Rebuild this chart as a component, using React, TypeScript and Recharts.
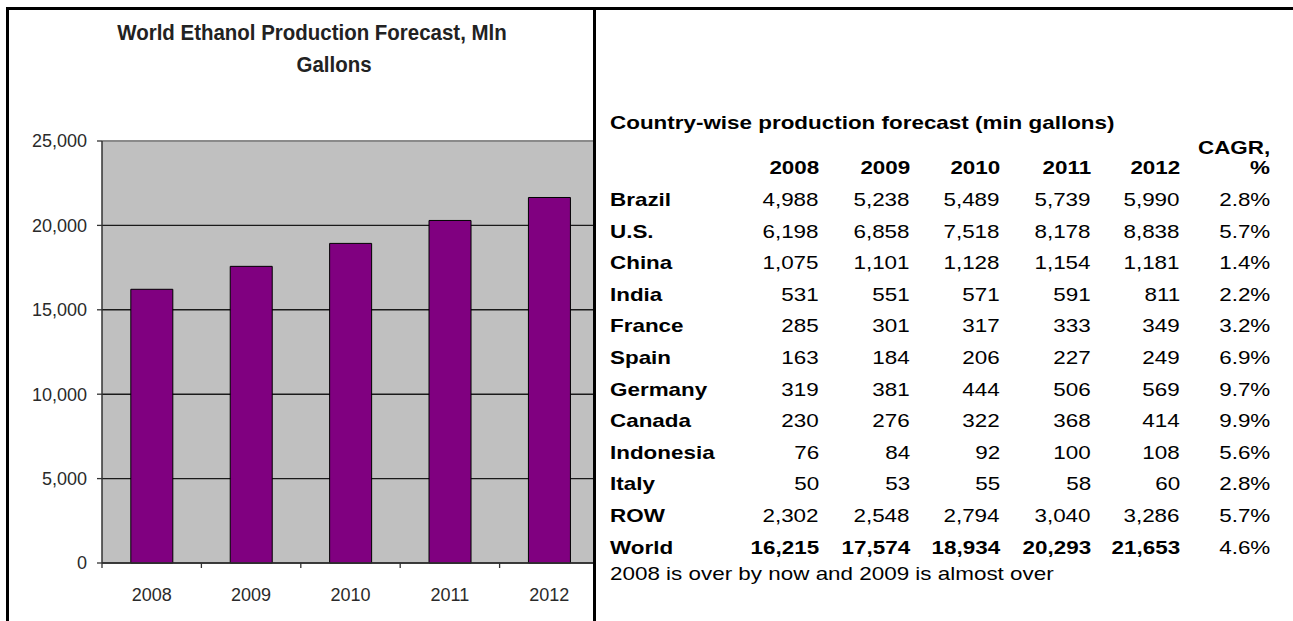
import React from 'react';
import { BarChart, Bar, XAxis, YAxis, CartesianGrid, ReferenceLine } from 'recharts';

const years = ['2008', '2009', '2010', '2011', '2012'];
const worldTotals = [16215, 17574, 18934, 20293, 21653];
const yTicks = [0, 5000, 10000, 15000, 20000, 25000];

const countries = ['Brazil', 'U.S.', 'China', 'India', 'France', 'Spain', 'Germany', 'Canada', 'Indonesia', 'Italy', 'ROW', 'World'];
const v2008 = [4988, 6198, 1075, 531, 285, 163, 319, 230, 76, 50, 2302, 16215];
const v2009 = [5238, 6858, 1101, 551, 301, 184, 381, 276, 84, 53, 2548, 17574];
const v2010 = [5489, 7518, 1128, 571, 317, 206, 444, 322, 92, 55, 2794, 18934];
const v2011 = [5739, 8178, 1154, 591, 333, 227, 506, 368, 100, 58, 3040, 20293];
const v2012 = [5990, 8838, 1181, 811, 349, 249, 569, 414, 108, 60, 3286, 21653];
const cagr = ['2.8%', '5.7%', '1.4%', '2.2%', '3.2%', '6.9%', '9.7%', '9.9%', '5.6%', '2.8%', '5.7%', '4.6%'];

const chartTitle = ['World Ethanol Production Forecast, Mln', 'Gallons'];
const tableTitle = 'Country-wise production forecast (min gallons)';
const footnote = '2008 is over by now and 2009 is almost over';

const chartData = years.map((y, i) => ({ year: y, value: worldTotals[i] }));
const yearCols = [v2008, v2009, v2010, v2011, v2012];

const FONT = "'Liberation Sans', Arial, Helvetica, sans-serif";
const fmt = (n: number) => n.toLocaleString('en-US');

const XTick = (props: any) => {
  const { x, y, payload, index } = props;
  const half = payload && typeof payload.offset === 'number' && payload.offset > 0 ? payload.offset : 49.7;
  return (
    <g>
      <line x1={x - half} x2={x - half} y1={y - 5} y2={y} stroke="#333" strokeWidth={1.3} />
      {index === years.length - 1 && (
        <line x1={x + half} x2={x + half} y1={y - 5} y2={y} stroke="#333" strokeWidth={1.3} />
      )}
      <text x={x} y={y + 27} textAnchor="middle" dominantBaseline="central" fill="#2a2a2a" fontSize={18} fontFamily={FONT}>
        {payload.value}
      </text>
    </g>
  );
};

const colRights = [819, 910, 1000, 1091, 1180, 1270];
const labelLeft = 610;
const rowY0 = 200;
const rowStep = 31.6;

const cellStyle = (y: number, bold: boolean): React.CSSProperties => ({
  position: 'absolute',
  top: y,
  fontFamily: FONT,
  fontSize: 19,
  fontWeight: bold ? 'bold' : 'normal',
  color: '#000',
  whiteSpace: 'nowrap',
  lineHeight: '20px',
});

const Right = ({ x, y, bold, children }: any) => (
  <div style={{ ...cellStyle(y, bold), right: 1293 - x, transform: 'translateY(-50%) scaleX(1.18)', transformOrigin: 'right center' }}>{children}</div>
);
const Left = ({ x, y, bold, children }: any) => (
  <div style={{ ...cellStyle(y, bold), left: x, transform: 'translateY(-50%) scaleX(1.18)', transformOrigin: 'left center' }}>{children}</div>
);

const titleStyle = (x: number, y: number): React.CSSProperties => ({
  position: 'absolute',
  left: x,
  top: y,
  transform: 'translate(-50%, -50%) scaleX(0.93)',
  fontFamily: FONT,
  fontWeight: 'bold',
  fontSize: 22,
  color: '#222',
  whiteSpace: 'nowrap',
});

export default function App() {
  return (
    <div style={{ position: 'absolute', left: 0, top: 0, width: 1293, height: 621, background: '#fff', overflow: 'hidden' }}>
      {/* borders */}
      <div style={{ position: 'absolute', left: 6, top: 7, width: 1300, height: 3, background: '#000' }} />
      <div style={{ position: 'absolute', left: 6, top: 7, width: 3, height: 620, background: '#000' }} />

      {/* chart panel */}
      <div style={{ position: 'absolute', left: 0, top: 0, width: 593, height: 621, overflow: 'hidden' }}>
        <BarChart width={620} height={621} data={chartData} margin={{ top: 141, right: 21, bottom: 0, left: 0 }} barCategoryGap="29%">
          <CartesianGrid vertical={false} stroke="#1a1a1a" strokeWidth={1.4} fill="#C0C0C0" fillOpacity={1} />
          <ReferenceLine y={25000} stroke="#8a8a8a" strokeWidth={2} />
          <XAxis dataKey="year" tickLine={false} tickSize={5} tickMargin={0} axisLine={{ stroke: '#333', strokeWidth: 1.4 }} tick={<XTick />} interval={0} height={58} />
          <YAxis
            type="number"
            domain={[0, 25000]}
            ticks={yTicks}
            tickFormatter={fmt}
            width={102}
            tickSize={5}
            tickMargin={10}
            axisLine={{ stroke: '#333', strokeWidth: 1.5 }}
            tickLine={{ stroke: '#333', strokeWidth: 1.3 }}
            tick={{ fill: '#2a2a2a', fontSize: 18, fontFamily: FONT }}
          />
          <Bar dataKey="value" fill="#800080" stroke="#000" strokeWidth={1} isAnimationActive={false} />
        </BarChart>
        <div style={titleStyle(312, 33)}>{chartTitle[0]}</div>
        <div style={titleStyle(334, 65)}>{chartTitle[1]}</div>
      </div>

      {/* divider */}
      <div style={{ position: 'absolute', left: 593, top: 7, width: 3, height: 620, background: '#000' }} />

      {/* table */}
      <Left x={labelLeft} y={123} bold>{tableTitle}</Left>
      <Right x={colRights[5]} y={148} bold>CAGR,</Right>
      {years.map((yr, j) => (
        <Right key={yr} x={colRights[j]} y={168} bold>{yr}</Right>
      ))}
      <Right x={colRights[5]} y={168} bold>%</Right>
      {countries.map((c, i) => {
        const y = rowY0 + i * rowStep;
        const isWorld = c === 'World';
        return (
          <React.Fragment key={c}>
            <Left x={labelLeft} y={y} bold>{c}</Left>
            {yearCols.map((col, j) => (
              <Right key={j} x={colRights[j]} y={y} bold={isWorld}>{fmt(col[i])}</Right>
            ))}
            <Right x={colRights[5]} y={y} bold={false}>{cagr[i]}</Right>
          </React.Fragment>
        );
      })}
      <Left x={labelLeft} y={574} bold={false}>{footnote}</Left>
    </div>
  );
}
